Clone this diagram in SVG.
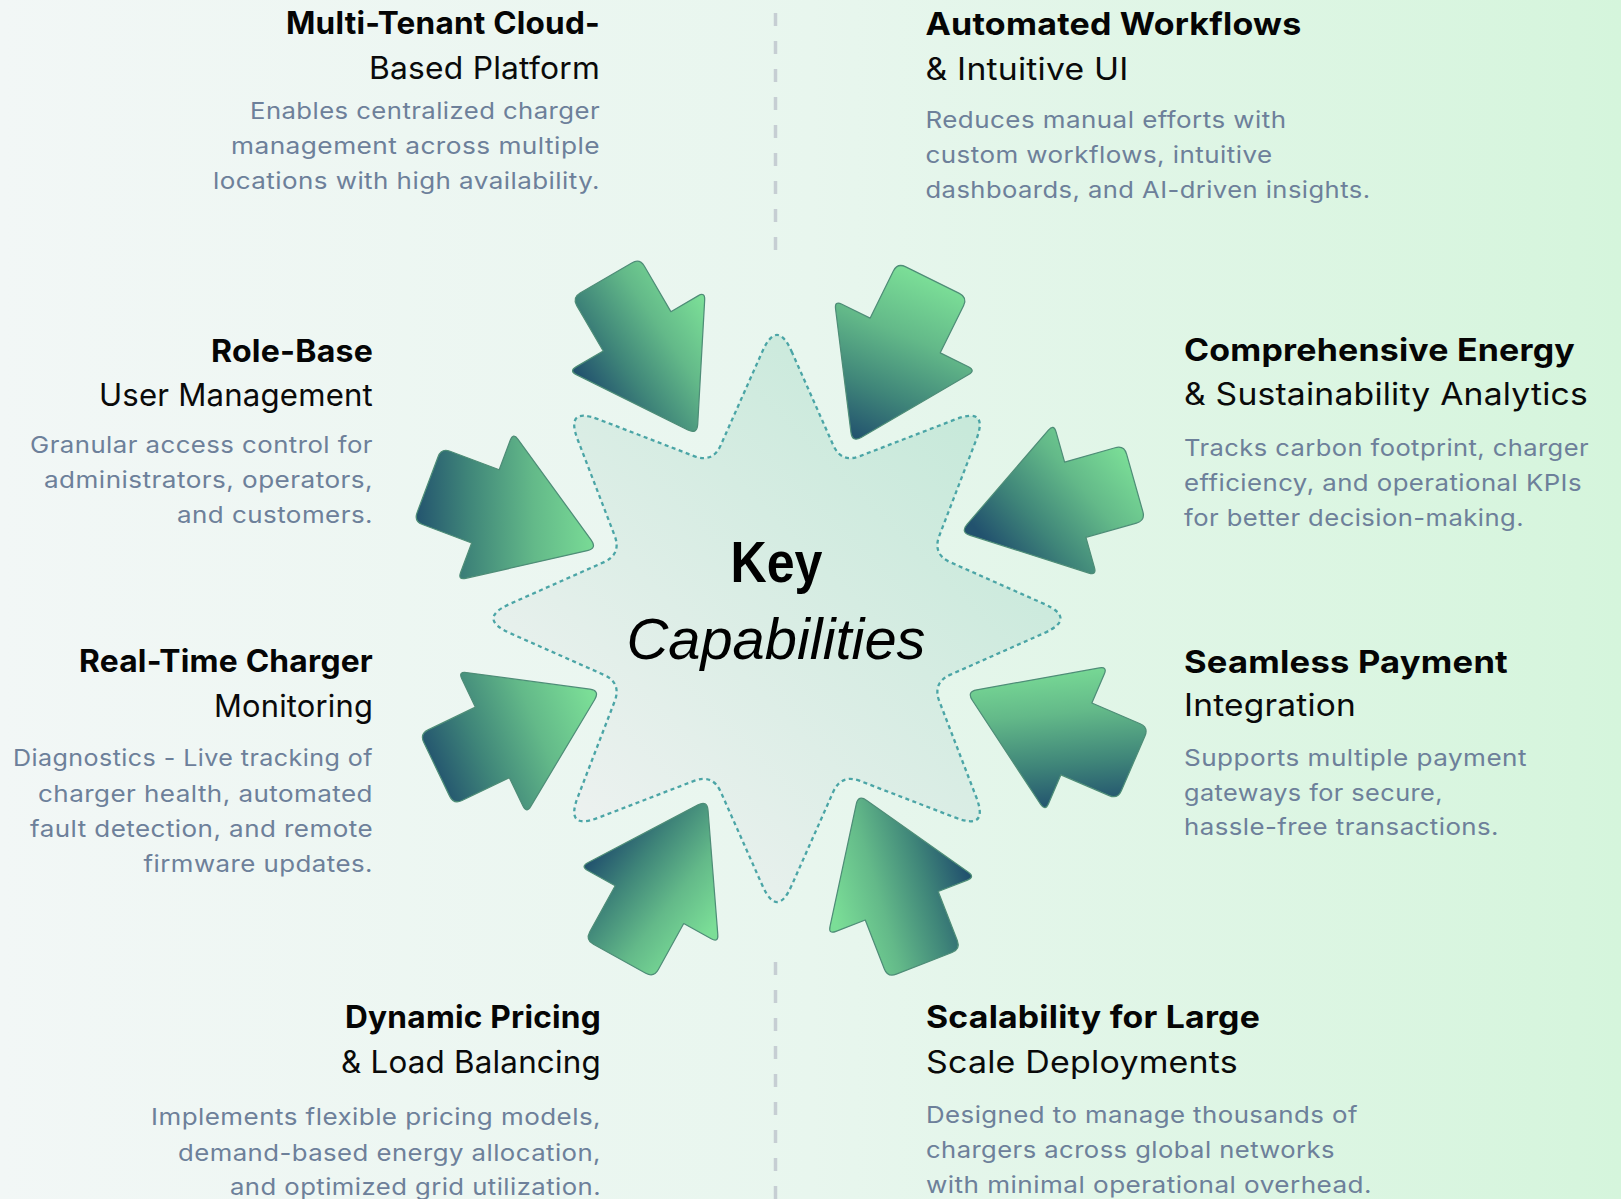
<svg xmlns="http://www.w3.org/2000/svg" width="1621" height="1199" viewBox="0 0 1621 1199">
<defs>
<style>
.h{font-family:Inter,"Liberation Sans",Arial,sans-serif;font-size:31px;font-weight:700;fill:#050505;letter-spacing:0.2px}
.s{font-family:Inter,"Liberation Sans",Arial,sans-serif;font-size:31px;font-weight:400;fill:#0a0a0a;letter-spacing:0.2px}
.d{font-family:Inter,"Liberation Sans",Arial,sans-serif;font-size:23px;font-weight:400;fill:#6d809a;letter-spacing:0.4px}
.e{text-anchor:end}
.arw{stroke:#4e8d77;stroke-width:1.2;stroke-linejoin:round}
.dash{stroke:#c6ced3;stroke-width:3.5;stroke-dasharray:13 15;fill:none}
</style>
<linearGradient id="bg" x1="0" y1="0" x2="1" y2="0">
<stop offset="0" stop-color="#f2f7f6"/>
<stop offset="0.5" stop-color="#e8f6ee"/>
<stop offset="1" stop-color="#d5f5dc"/>
</linearGradient>
<linearGradient id="starFill" x1="0" y1="1" x2="1" y2="0">
<stop offset="0" stop-color="#f4f3f4"/>
<stop offset="1" stop-color="#bfe7d5"/>
</linearGradient>
<linearGradient id="ag" gradientUnits="userSpaceOnUse" x1="0" y1="86" x2="0" y2="-86">
<stop offset="0" stop-color="#22526e"/>
<stop offset="0.3" stop-color="#3f8579"/>
<stop offset="0.65" stop-color="#63b989"/>
<stop offset="1" stop-color="#7bde97"/>
</linearGradient>
<linearGradient id="gTR" href="#ag" gradientUnits="userSpaceOnUse" x1="0" y1="86" x2="-10" y2="-86"/>
<linearGradient id="gRU" href="#ag" gradientUnits="userSpaceOnUse" x1="27" y1="62" x2="-41" y2="-82"/>
<linearGradient id="gRL" href="#ag" gradientUnits="userSpaceOnUse" x1="74" y1="-27" x2="-50" y2="40"/>
<linearGradient id="gBR" href="#ag" gradientUnits="userSpaceOnUse" x1="-70" y1="-22" x2="65" y2="-10"/>
<linearGradient id="gBL" href="#ag" gradientUnits="userSpaceOnUse" x1="73" y1="-24" x2="-60" y2="-46"/>
<linearGradient id="gLL" href="#ag" gradientUnits="userSpaceOnUse" x1="9" y1="-92" x2="0" y2="80"/>
<linearGradient id="gLU" href="#ag" gradientUnits="userSpaceOnUse" x1="-37" y1="-87" x2="30" y2="80"/>
<linearGradient id="gTL" href="#ag" gradientUnits="userSpaceOnUse" x1="-71" y1="-20" x2="70" y2="-30"/>
<path id="arrow" d="M-29,-86 L29,-86 Q38,-86 38,-77 L38,-26 L68.5,-26 Q76.5,-26 72.1,-19.32 L5.51,81.65 Q0,90 -5.51,81.65 L-72.1,-19.32 Q-76.5,-26 -68.5,-26 L-38,-26 L-38,-77 Q-38,-86 -29,-86 Z"/>
</defs>

<rect x="0" y="0" width="1621" height="1199" fill="url(#bg)"/>

<g id="dividers">
<line class="dash" x1="775.5" y1="13" x2="775.5" y2="253"/>
<line class="dash" x1="775.5" y1="962" x2="775.5" y2="1199"/>
</g>

<g id="connectors">
<use href="#arrow" class="arw" fill="url(#gTR)" transform="translate(893.3,359.5) rotate(26.3) scale(1.03)"/>
<use href="#arrow" class="arw" fill="url(#gRU)" transform="translate(1049.5,507) rotate(74.2) scale(1.03)"/>
<use href="#arrow" class="arw" fill="url(#gRL)" transform="translate(1051.8,728.3) rotate(113.3) scale(1.03)"/>
<use href="#arrow" class="arw" fill="url(#gBR)" transform="translate(892,880.8) rotate(158.7) scale(1.03)"/>
<use href="#arrow" class="arw" fill="url(#gBL)" transform="translate(662.4,881.2) rotate(208.9) scale(1.03)"/>
<use href="#arrow" class="arw" fill="url(#gLL)" transform="translate(516.5,730.8) rotate(244.3) scale(1.03)"/>
<use href="#arrow" class="arw" fill="url(#gLU)" transform="translate(510.5,515.8) rotate(290.6) scale(1.03)"/>
<use href="#arrow" class="arw" fill="url(#gTL)" transform="translate(650.5,354.5) rotate(329.8) scale(1.03)"/>
</g>

<g id="center">
<path transform="translate(777,618.5)" fill="url(#starFill)" stroke="#4ba5a6" stroke-width="2.3" stroke-dasharray="4 3.5" d="M14.61,-267.09 L56.17,-173.5 Q64.29,-155.21 82.96,-162.4 L178.53,-199.19 Q212.13,-212.13 199.19,-178.53 L162.4,-82.96 Q155.21,-64.29 173.5,-56.17 L267.09,-14.61 Q300,0 267.09,14.61 L173.5,56.17 Q155.21,64.29 162.4,82.96 L199.19,178.53 Q212.13,212.13 178.53,199.19 L82.96,162.4 Q64.29,155.21 56.17,173.5 L14.61,267.09 Q0,300 -14.61,267.09 L-56.17,173.5 Q-64.29,155.21 -82.96,162.4 L-178.53,199.19 Q-212.13,212.13 -199.19,178.53 L-162.4,82.96 Q-155.21,64.29 -173.5,56.17 L-267.09,14.61 Q-300,0 -267.09,-14.61 L-173.5,-56.17 Q-155.21,-64.29 -162.4,-82.96 L-199.19,-178.53 Q-212.13,-212.13 -178.53,-199.19 L-82.96,-162.4 Q-64.29,-155.21 -56.17,-173.5 L-14.61,-267.09 Q0,-300 14.61,-267.09 Z"/>
<text x="776.5" y="581.5" text-anchor="middle" font-family="Liberation Sans, Arial, sans-serif" font-weight="700" font-size="57" fill="#000" textLength="92" lengthAdjust="spacingAndGlyphs">Key</text>
<text x="776" y="659" text-anchor="middle" font-family="Liberation Sans, Arial, sans-serif" font-style="italic" font-size="57" fill="#000" textLength="299" lengthAdjust="spacingAndGlyphs">Capabilities</text>
</g>

<g id="multi-tenant">
<text class="h e" x="600" y="33.5" textLength="314" lengthAdjust="spacingAndGlyphs">Multi-Tenant Cloud-</text>
<text class="s e" x="600" y="78.5" textLength="231" lengthAdjust="spacingAndGlyphs">Based Platform</text>
<text class="d e" x="600" y="118.5" textLength="350" lengthAdjust="spacingAndGlyphs">Enables centralized charger</text>
<text class="d e" x="600" y="153.5" textLength="369" lengthAdjust="spacingAndGlyphs">management across multiple</text>
<text class="d e" x="600" y="188.5" textLength="387" lengthAdjust="spacingAndGlyphs">locations with high availability.</text>
</g>

<g id="automated-workflows">
<text class="h" x="925.5" y="35" textLength="376" lengthAdjust="spacingAndGlyphs">Automated Workflows</text>
<text class="s" x="925.5" y="80" textLength="203" lengthAdjust="spacingAndGlyphs">&amp; Intuitive UI</text>
<text class="d" x="925.5" y="127.5" textLength="361" lengthAdjust="spacingAndGlyphs">Reduces manual efforts with</text>
<text class="d" x="925.5" y="163" textLength="347" lengthAdjust="spacingAndGlyphs">custom workflows, intuitive</text>
<text class="d" x="925.5" y="198" textLength="445" lengthAdjust="spacingAndGlyphs">dashboards, and AI-driven insights.</text>
</g>

<g id="role-based">
<text class="h e" x="373" y="362.3" textLength="162" lengthAdjust="spacingAndGlyphs">Role-Base</text>
<text class="s e" x="373" y="406" textLength="274" lengthAdjust="spacingAndGlyphs">User Management</text>
<text class="d e" x="373" y="452.7" textLength="343" lengthAdjust="spacingAndGlyphs">Granular access control for</text>
<text class="d e" x="373" y="488.3" textLength="329" lengthAdjust="spacingAndGlyphs">administrators, operators,</text>
<text class="d e" x="373" y="523.3" textLength="196" lengthAdjust="spacingAndGlyphs">and customers.</text>
</g>

<g id="energy-analytics">
<text class="h" x="1184" y="361" textLength="391" lengthAdjust="spacingAndGlyphs">Comprehensive Energy</text>
<text class="s" x="1184" y="405" textLength="404" lengthAdjust="spacingAndGlyphs">&amp; Sustainability Analytics</text>
<text class="d" x="1184" y="456" textLength="405" lengthAdjust="spacingAndGlyphs">Tracks carbon footprint, charger</text>
<text class="d" x="1184" y="491" textLength="398" lengthAdjust="spacingAndGlyphs">efficiency, and operational KPIs</text>
<text class="d" x="1184" y="525.5" textLength="340" lengthAdjust="spacingAndGlyphs">for better decision-making.</text>
</g>

<g id="monitoring">
<text class="h e" x="373" y="672" textLength="294" lengthAdjust="spacingAndGlyphs">Real-Time Charger</text>
<text class="s e" x="373" y="716.5" textLength="159" lengthAdjust="spacingAndGlyphs">Monitoring</text>
<text class="d e" x="373" y="766" textLength="360" lengthAdjust="spacingAndGlyphs">Diagnostics - Live tracking of</text>
<text class="d e" x="373" y="801.5" textLength="335" lengthAdjust="spacingAndGlyphs">charger health, automated</text>
<text class="d e" x="373" y="836.5" textLength="343" lengthAdjust="spacingAndGlyphs">fault detection, and remote</text>
<text class="d e" x="373" y="871.5" textLength="229.5" lengthAdjust="spacingAndGlyphs">firmware updates.</text>
</g>

<g id="payment">
<text class="h" x="1184" y="672.7" textLength="324" lengthAdjust="spacingAndGlyphs">Seamless Payment</text>
<text class="s" x="1184" y="716" textLength="172" lengthAdjust="spacingAndGlyphs">Integration</text>
<text class="d" x="1184" y="765.7" textLength="343" lengthAdjust="spacingAndGlyphs">Supports multiple payment</text>
<text class="d" x="1184" y="800.7" textLength="259" lengthAdjust="spacingAndGlyphs">gateways for secure,</text>
<text class="d" x="1184" y="835" textLength="315" lengthAdjust="spacingAndGlyphs">hassle-free transactions.</text>
</g>

<g id="dynamic-pricing">
<text class="h e" x="601" y="1027.5" textLength="256" lengthAdjust="spacingAndGlyphs">Dynamic Pricing</text>
<text class="s e" x="601" y="1073.3" textLength="260" lengthAdjust="spacingAndGlyphs">&amp; Load Balancing</text>
<text class="d e" x="601" y="1125" textLength="450" lengthAdjust="spacingAndGlyphs">Implements flexible pricing models,</text>
<text class="d e" x="601" y="1160.5" textLength="423" lengthAdjust="spacingAndGlyphs">demand-based energy allocation,</text>
<text class="d e" x="601" y="1195" textLength="371" lengthAdjust="spacingAndGlyphs">and optimized grid utilization.</text>
</g>

<g id="scalability">
<text class="h" x="926" y="1027.5" textLength="334" lengthAdjust="spacingAndGlyphs">Scalability for Large</text>
<text class="s" x="926" y="1072.7" textLength="312" lengthAdjust="spacingAndGlyphs">Scale Deployments</text>
<text class="d" x="926" y="1123.3" textLength="432" lengthAdjust="spacingAndGlyphs">Designed to manage thousands of</text>
<text class="d" x="926" y="1158.3" textLength="409" lengthAdjust="spacingAndGlyphs">chargers across global networks</text>
<text class="d" x="926" y="1193.3" textLength="446" lengthAdjust="spacingAndGlyphs">with minimal operational overhead.</text>
</g>
</svg>
